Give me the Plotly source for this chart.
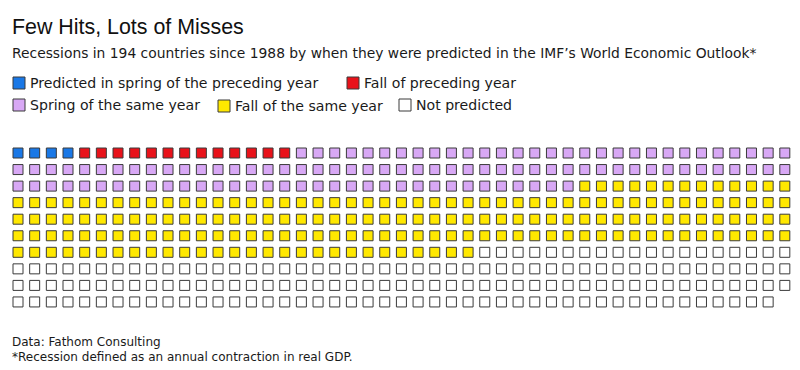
import plotly.graph_objects as go

# ---- data ----
categories = ["Predicted in spring of the preceding year", "Fall of preceding year",
              "Spring of the same year", "Fall of the same year", "Not predicted"]
counts = [4, 13, 111, 182, 159]
colors = ["#1a78e6", "#e8121a", "#d8a8f5", "#ffe800", "#ffffff"]
n_cols = 47

title = "Few Hits, Lots of Misses"
subtitle = "Recessions in 194 countries since 1988 by when they were predicted in the IMF’s World Economic Outlook*"
source = "Data: Fathom Consulting"
note = "*Recession defined as an annual contraction in real GDP."

OFF = 8  # page body margin
W, H = 800 - OFF, 370 - OFF
TFONT = "Liberation Sans, Arial, sans-serif"
FONT = "DejaVu Sans, sans-serif"

fig = go.Figure()
idx = 0
for cat, n, col in zip(categories, counts, colors):
    xs, ys = [], []
    for k in range(n):
        xs.append((idx + k) % n_cols)
        ys.append((idx + k) // n_cols)
    idx += n
    fig.add_trace(go.Scatter(
        x=xs, y=ys, mode="markers", name=cat, showlegend=False, hoverinfo="name",
        marker=dict(symbol="square", size=10, color=col,
                    line=dict(color="#3a3a3a", width=1)),
    ))

# pixel mapping (reference page pixels, shifted by the body margin)
x0_px, dx_px = 18.0 - OFF, 16.67
y0_px, dy_px = 153.0 - OFF, 16.55
fig.update_xaxes(range=[-x0_px / dx_px, (W - x0_px) / dx_px], visible=False, fixedrange=True)
fig.update_yaxes(range=[(H - y0_px) / dy_px, -y0_px / dy_px], visible=False, fixedrange=True)

def px_x(p):
    return (p - OFF) / W

def px_y(p):
    return 1 - (p - OFF) / H

ann = []
def text(x, y, s, size, color="#1a1a1a", family=FONT):
    ann.append(dict(x=px_x(x), y=px_y(y), xref="paper", yref="paper", text=s,
                    showarrow=False, xanchor="left", yanchor="middle", xshift=-2,
                    font=dict(family=family, size=size, color=color)))

text(12, 27, title, 21.4, "#111111", TFONT)
text(12, 53, subtitle, 13.85)
text(12, 342, source, 12.0)
text(12, 357, note, 12.0)

# legend: (square left px, centre y px, category index)
legend_items = [(13, 83, 0), (347, 83, 1), (13, 105, 2), (218, 106, 3), (399, 105, 4)]
shapes = []
for lx, ly, ci in legend_items:
    shapes.append(dict(type="rect", xref="paper", yref="paper",
                       x0=px_x(lx), x1=px_x(lx + 12), y0=px_y(ly + 6), y1=px_y(ly - 6),
                       fillcolor=colors[ci], line=dict(color="#3a3a3a", width=1)))
    text(lx + 17, ly, categories[ci], 14.1, "#1a1a1a")

fig.update_layout(
    width=W, height=H, margin=dict(l=0, r=0, t=0, b=0),
    paper_bgcolor="white", plot_bgcolor="white",
    annotations=ann, shapes=shapes, showlegend=False,
)
fig.write_html("out.html")
